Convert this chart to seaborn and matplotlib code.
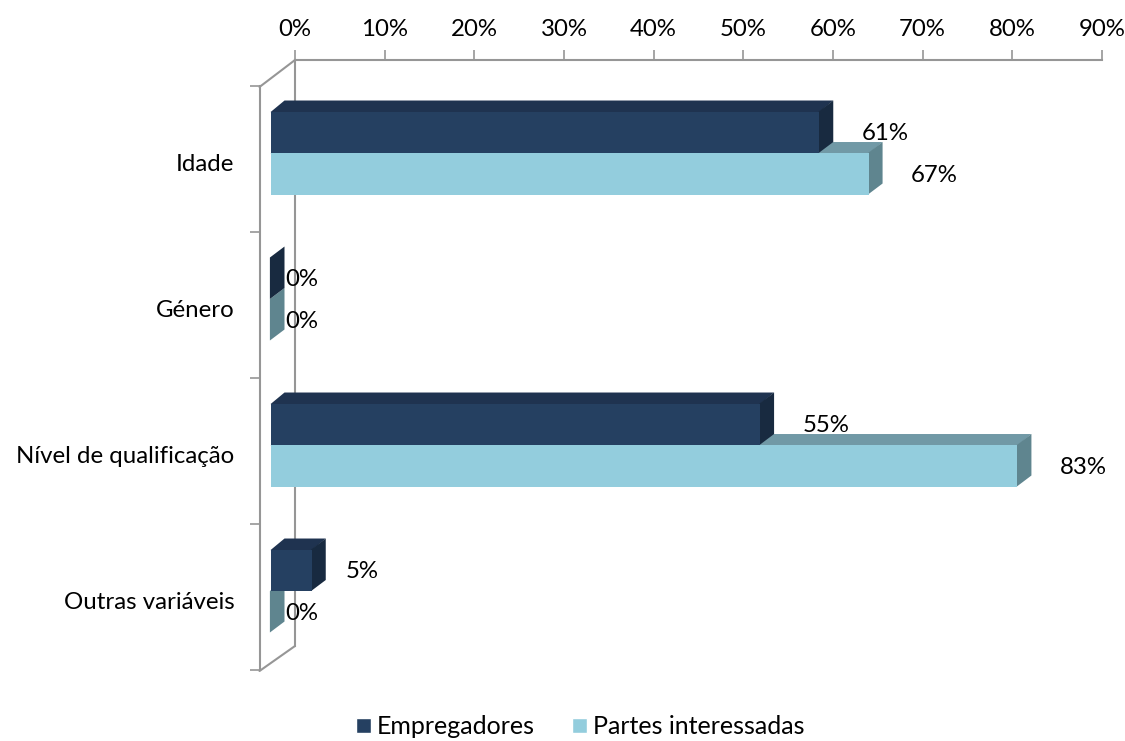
import matplotlib
matplotlib.use('Agg')
import matplotlib.pyplot as plt
from matplotlib.lines import Line2D
from matplotlib.patches import Polygon
from matplotlib.transforms import offset_copy
import pandas as pd
import seaborn as sns

# Data
categories = ['Idade', 'Género', 'Nível de qualificação', 'Outras variáveis']
empregadores = [61.2, 0, 54.6, 4.6]
partes_interessadas = [66.7, 0, 83.3, 0]
series_names = ['Empregadores', 'Partes interessadas']
x_ticks = list(range(0, 100, 10))

W, H = 1125, 741
FONT = 'Lato'
FS = 17.3
DARK = ('#254061', '#1f3350', '#182a40')
LIGHT = ('#93cddd', '#7199a6', '#5f858f')
AXIS = '#969696'

sns.set_theme(style='white')
plt.rcParams['font.family'] = [FONT, 'DejaVu Sans']
plt.rcParams['axes.unicode_minus'] = False


def fig_box(left, top, right, bottom):
    # pixel box -> figure fraction rectangle
    return [left / W, 1 - bottom / H, (right - left) / W, (bottom - top) / H]


df = pd.DataFrame({
    'categoria': categories * 2,
    'serie': [series_names[0]] * 4 + [series_names[1]] * 4,
    'valor': empregadores + partes_interessadas,
})

fig = plt.figure(figsize=(W / 100, H / 100), dpi=100, facecolor='white')

# Back wall carries the percent axis
back = fig.add_axes(fig_box(295, 60, 1102, 646))
back.set_xlim(0, 90)
back.set_yticks([])
back.set_xticks(x_ticks)
back.set_xticklabels([f'{t}%' for t in x_ticks], fontsize=FS, color='black')
back.xaxis.tick_top()
back.tick_params(axis='x', length=7, width=1.2, color=AXIS, pad=7.5, top=True, bottom=False)
for side in ['right', 'bottom']:
    back.spines[side].set_visible(False)
for side in ['top', 'left']:
    back.spines[side].set_color(AXIS)
    back.spines[side].set_linewidth(1.5)

# Front plane holds the bars
ax = fig.add_axes(fig_box(270.5, 86, 270.5 + 807, 670))
ax.patch.set_alpha(0)
sns.barplot(data=df, y='categoria', x='valor', hue='serie', order=categories,
            hue_order=series_names, palette=[DARK[0], LIGHT[0]], width=83 / 146,
            gap=0, dodge=True, saturation=1, ax=ax, legend=True, err_kws={'linewidth': 0})
ax.set_xlim(0, 90)
ax.set_ylim(3.541, -0.459)
ax.set_xlabel('')
ax.set_ylabel('')
ax.set_xticks([])

for side in ['top', 'right', 'bottom']:
    ax.spines[side].set_visible(False)
ax.spines['left'].set_position(('outward', 7.6))
ax.spines['left'].set_color(AXIS)
ax.spines['left'].set_linewidth(1.5)

ax.set_yticks([i - 0.459 for i in range(5)], minor=True)
ax.tick_params(axis='y', which='minor', left=True, length=7, width=1.2, color=AXIS)
ax.tick_params(axis='y', which='major', left=False, length=0, pad=18.5)
for lab in ax.get_yticklabels():
    lab.set_fontsize(FS)
    lab.set_color('black')
    lab.set_transform(offset_copy(lab.get_transform(), fig=fig, y=-6.5, units='points'))

# Fake 3D: top and side faces behind every bar
depth_x = 14 / (807 / 90)
depth_y = 11 / 146
lap_x = 0.6 / (807 / 90)  # small overlap under the front face, avoids a pale seam
lap_y = 0.6 / 146
for container, shades, z in zip(ax.containers, [DARK, LIGHT], [4, 2]):
    for bar in container:
        bar.set_zorder(z + 1)
        bar.set_edgecolor('none')
        bar.set_linewidth(0)
        x1 = bar.get_width()
        y0, y1 = bar.get_y(), bar.get_y() + bar.get_height()
        top = [(0, y0 + lap_y), (x1, y0 + lap_y), (x1 + depth_x, y0 - depth_y), (depth_x, y0 - depth_y)]
        side = [(x1 - lap_x, y0), (x1 - lap_x, y1), (x1 + depth_x, y1 - depth_y), (x1 + depth_x, y0 - depth_y)]
        ax.add_patch(Polygon(top, closed=True, fc=shades[1], ec='none', lw=0, zorder=z, clip_on=False))
        ax.add_patch(Polygon(side, closed=True, fc=shades[2], ec='none', lw=0, zorder=z, clip_on=False))

# Data labels sit a fixed distance past the bar end
for container, vals in zip(ax.containers, [empregadores, partes_interessadas]):
    for bar, v in zip(container, vals):
        if v == 0:
            shift = 31
        elif v < 10:
            shift = 50
        else:
            shift = 66
        ax.annotate(f'{round(v)}%', (v, bar.get_y() + bar.get_height() / 2),
                    xytext=(shift * 0.72, -1.0), textcoords='offset points',
                    ha='center', va='center', fontsize=FS, color='black', zorder=8)

# Floor and ceiling edges joining the walls
for ya, yb in [(60, 87), (646, 671)]:
    fig.add_artist(Line2D([295 / W, 259.5 / W], [1 - ya / H, 1 - yb / H], color=AXIS, lw=1.5))

handles, labels = ax.get_legend_handles_labels()
leg = ax.legend(handles, labels, ncol=2, loc='center', bbox_to_anchor=(580 / W, 1 - 727 / H),
                bbox_transform=fig.transFigure, frameon=False, fontsize=18, handlelength=0.6,
                handleheight=0.55, handletextpad=0.24, columnspacing=1.5, labelcolor='black',
                borderpad=0)

plt.savefig('out.png', dpi=100)
